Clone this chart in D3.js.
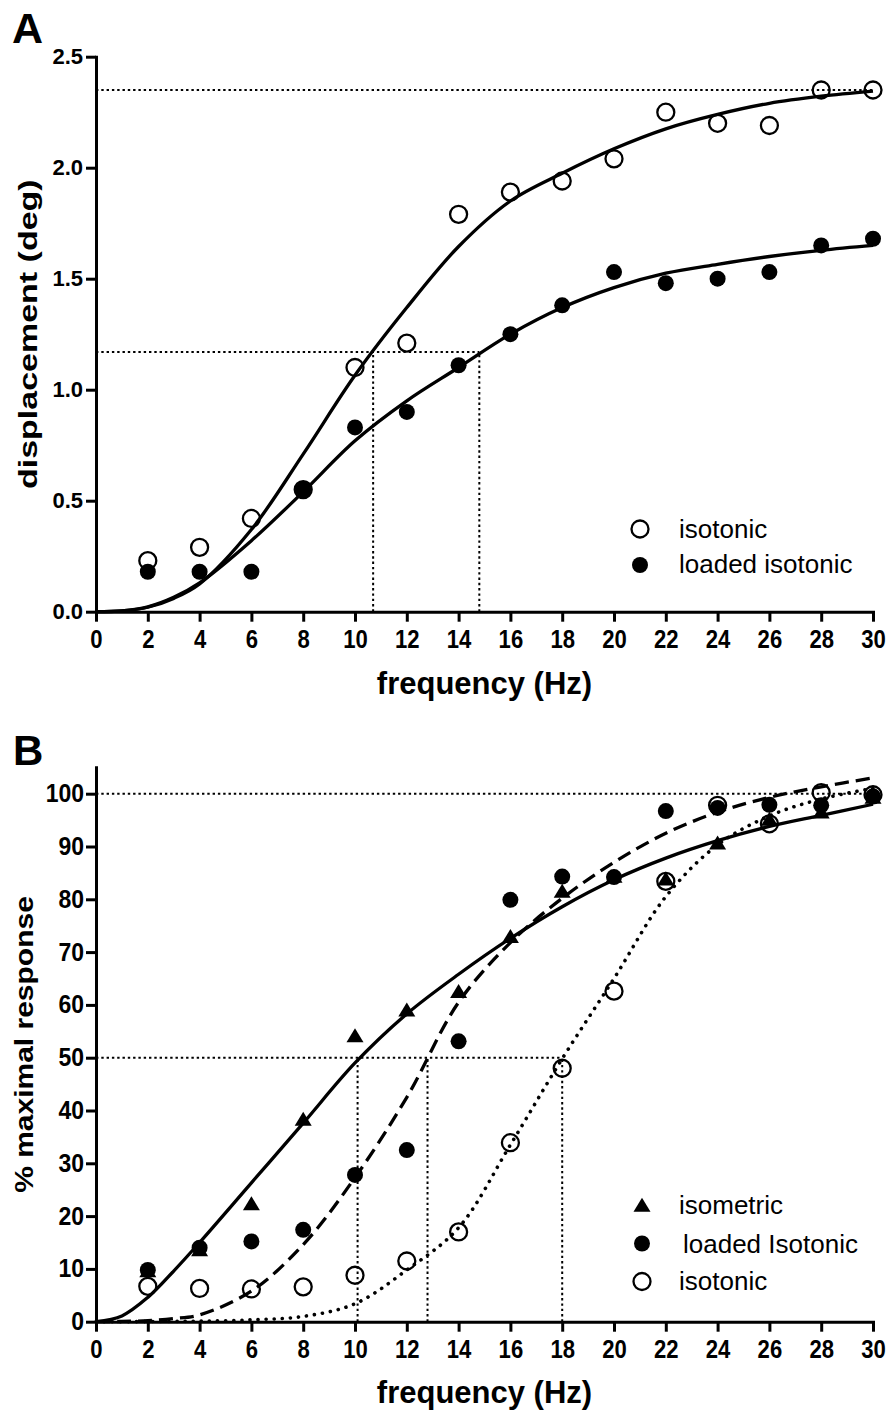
<!DOCTYPE html>
<html><head><meta charset="utf-8">
<script src="https://cdn.jsdelivr.net/npm/d3@7"></script>
<style>
body{margin:0;background:#fff}
text{font-family:"Liberation Sans",Arial,Helvetica,sans-serif;fill:#000}
</style>
</head><body>
<svg id="chart" width="889" height="1419"></svg>
<script>
// ---------- DATA ----------
const freq = [2,4,6,8,10,12,14,16,18,20,22,24,26,28,30];
const xTicks = [0,2,4,6,8,10,12,14,16,18,20,22,24,26,28,30];

// Panel A : displacement (deg)
const aIsotonic = [0.23,0.29,0.42,0.55,1.10,1.21,1.79,1.89,1.94,2.04,2.25,2.20,2.19,2.35,2.35];
const aLoaded   = [0.18,0.18,0.18,0.55,0.83,0.90,1.11,1.25,1.38,1.53,1.48,1.50,1.53,1.65,1.68];
const fitFreq   = [0,1,2,3,4,6,8,10,12,14,16,18,20,22,24,26,28,30];
const aFitIsotonic = [0,0.004,0.02,0.06,0.125,0.37,0.71,1.065,1.37,1.645,1.85,1.975,2.085,2.175,2.24,2.29,2.322,2.345];
const aFitLoaded   = [0,0.004,0.022,0.065,0.13,0.32,0.54,0.77,0.95,1.10,1.25,1.37,1.46,1.525,1.565,1.60,1.628,1.65];
const aYTicks = [0,0.5,1.0,1.5,2.0,2.5];
const aMax = 2.35, aHalf = 1.17, aHalfFreq = [10.7,14.8];

// Panel B : % maximal response
const bIsometric = [9.3,13.3,22,38,53.8,58.7,62.2,72.6,81.2,84,83.5,90.3,94.8,96.2,99.0];
const bLoaded    = [9.8,14,15.2,17.4,27.8,32.5,53.1,79.9,84.3,84.2,96.7,97.3,97.9,97.8,99.5];
const bIsotonic  = [6.7,6.3,6.2,6.6,8.8,11.5,17.0,33.9,48.0,62.6,83.4,97.8,94.3,100.2,99.8];
const bFitIsometric = [0,1.1,4.6,9.6,15,26.3,37.6,49,58.3,65.8,72.6,78.6,83.7,87.8,91.1,93.8,95.9,98];
const bFitLoaded    = [0,0.05,0.2,0.6,1.3,5.8,14.6,27.3,42.5,60.5,71.8,80.2,87,92.5,96.5,99.3,101.3,103];
const bFitIsotonic  = [0,0,0.02,0.05,0.1,0.35,1.0,3.4,9.8,17.8,33.5,49.8,65,80.5,90.3,95.8,99,101];
const bYTicks = [0,10,20,30,40,50,60,70,80,90,100];
const bMax = 100, bHalf = 50, bHalfFreq = [10.1,12.8,18];

// ---------- DRAW ----------
const svg = d3.select('#chart');
const X0 = 96, X1 = 873;
const x = d3.scaleLinear().domain([0,30]).range([X0,X1]);
const yA = d3.scaleLinear().domain([0,2.5]).range([611.7,56.7]);
const yB = d3.scaleLinear().domain([0,105]).range([1321.7,767.3]);

const refStyle = s => s.attr('fill','none').attr('stroke','#000').attr('stroke-width',2).attr('stroke-dasharray','2.4,2.9');

function triPath(w,h){ return `M0,${-h*2/3}L${w/2},${h/3}L${-w/2},${h/3}Z`; }

function axes(g, y, yTicks, yFmt, yFont, ySx, xLabelBase, yTitle, yTitleFont, yTitleSy, yTitleX){
  const xa = g.append('g').attr('transform',`translate(0,${y(0)})`)
    .call(d3.axisBottom(x).tickValues(xTicks).tickSize(10).tickSizeOuter(0).tickPadding(8));
  xa.selectAll('text').attr('font-size',26).attr('font-weight','bold').attr('transform','scale(0.85,1)')
    .style('font-family','"Liberation Sans",Arial,sans-serif');
  const ya = g.append('g').attr('transform',`translate(${X0},0)`)
    .call(d3.axisLeft(y).tickValues(yTicks).tickFormat(yFmt).tickSize(10).tickSizeOuter(0).tickPadding(3));
  ya.selectAll('text').attr('font-size',yFont).attr('font-weight','bold').attr('transform',`scale(${ySx},1)`)
    .style('font-family','"Liberation Sans",Arial,sans-serif');
  g.selectAll('.domain, .tick line').attr('stroke','#000').attr('stroke-width',3);
  g.selectAll('.domain').attr('stroke-linecap','square');
  g.append('text').attr('x',(X0+X1)/2).attr('y',xLabelBase).attr('text-anchor','middle')
    .attr('font-size',31).attr('font-weight','bold').text('frequency (Hz)');
  const cy = (y.range()[0]+y.range()[1])/2;
  g.append('text').attr('transform',`translate(${yTitleX},${cy}) rotate(-90) scale(1,${yTitleSy})`)
    .attr('text-anchor','middle').attr('font-size',yTitleFont).attr('font-weight','bold').text(yTitle);
}

function fitLine(g, y, vals, dash, width, cap){
  const line = d3.line().x((d,i)=>x(fitFreq[i])).y(d=>y(d)).curve(d3.curveCatmullRom.alpha(0.5));
  const p = g.append('path').datum(vals).attr('d',line).attr('fill','none').attr('stroke','#000')
    .attr('stroke-width',width);
  if(dash) p.attr('stroke-dasharray',dash);
  if(cap) p.attr('stroke-linecap',cap);
}

// ----- Panel A -----
const gA = svg.append('g');
gA.append('text').attr('x',12).attr('y',43).attr('font-size',43).attr('font-weight','bold').text('A');
gA.append('line').attr('x1',x(0)).attr('x2',x(30)).attr('y1',yA(aMax)).attr('y2',yA(aMax)).call(refStyle);
gA.append('line').attr('x1',x(0)).attr('x2',x(d3.max(aHalfFreq))).attr('y1',yA(aHalf)).attr('y2',yA(aHalf)).call(refStyle);
aHalfFreq.forEach(f=>gA.append('line').attr('x1',x(f)).attr('x2',x(f)).attr('y1',yA(0)).attr('y2',yA(aHalf)).call(refStyle));
fitLine(gA, yA, aFitIsotonic, null, 3.3);
fitLine(gA, yA, aFitLoaded, null, 3.3);
axes(gA, yA, aYTicks, d3.format('.1f'), 22, 1, 694, 'displacement (deg)', 34, 0.76, 37);
gA.selectAll('.oa').data(freq).enter().append('circle').attr('cx',d=>x(d)).attr('cy',(d,i)=>yA(aIsotonic[i]))
  .attr('r',8.5).attr('fill','none').attr('stroke','#000').attr('stroke-width',2.3);
gA.selectAll('.fa').data(freq).enter().append('circle').attr('cx',d=>x(d)).attr('cy',(d,i)=>yA(aLoaded[i]))
  .attr('r',8).attr('fill','#000');
gA.append('circle').attr('cx',640).attr('cy',529).attr('r',8.5).attr('fill','none').attr('stroke','#000').attr('stroke-width',2.3);
gA.append('circle').attr('cx',640).attr('cy',565).attr('r',8).attr('fill','#000');
gA.append('text').attr('x',679).attr('y',538).attr('font-size',26).text('isotonic');
gA.append('text').attr('x',679).attr('y',573).attr('font-size',26).text('loaded isotonic');

// ----- Panel B -----
const gB = svg.append('g');
gB.append('text').attr('x',13).attr('y',765).attr('font-size',42).attr('font-weight','bold').text('B');
gB.append('line').attr('x1',x(0)).attr('x2',x(30)).attr('y1',yB(bMax)).attr('y2',yB(bMax)).call(refStyle);
gB.append('line').attr('x1',x(0)).attr('x2',x(d3.max(bHalfFreq))).attr('y1',yB(bHalf)).attr('y2',yB(bHalf)).call(refStyle);
bHalfFreq.forEach(f=>gB.append('line').attr('x1',x(f)).attr('x2',x(f)).attr('y1',yB(0)).attr('y2',yB(bHalf)).call(refStyle));
fitLine(gB, yB, bFitIsotonic, '0.1,8', 3.6, 'round');
fitLine(gB, yB, bFitLoaded, '14,7', 3.3);
fitLine(gB, yB, bFitIsometric, null, 3.3);
axes(gB, yB, bYTicks, d3.format('d'), 25, 0.92, 1403, '% maximal response', 30, 0.86, 33);
gB.selectAll('.ob').data(freq).enter().append('circle').attr('cx',d=>x(d)).attr('cy',(d,i)=>yB(bIsotonic[i]))
  .attr('r',8.5).attr('fill','none').attr('stroke','#000').attr('stroke-width',2.3);
gB.selectAll('.tb').data(freq).enter().append('path').attr('d',triPath(17,14))
  .attr('transform',(d,i)=>`translate(${x(d)},${yB(bIsometric[i])})`).attr('fill','#000');
gB.selectAll('.fb').data(freq).enter().append('circle').attr('cx',d=>x(d)).attr('cy',(d,i)=>yB(bLoaded[i]))
  .attr('r',8).attr('fill','#000');
gB.append('path').attr('d',triPath(17,14)).attr('transform','translate(642,1207)').attr('fill','#000');
gB.append('circle').attr('cx',642).attr('cy',1243.5).attr('r',8).attr('fill','#000');
gB.append('circle').attr('cx',642).attr('cy',1281.5).attr('r',8.5).attr('fill','none').attr('stroke','#000').attr('stroke-width',2.3);
gB.append('text').attr('x',679).attr('y',1214).attr('font-size',26).text('isometric');
gB.append('text').attr('x',683).attr('y',1252.5).attr('font-size',26).text('loaded Isotonic');
gB.append('text').attr('x',679).attr('y',1290).attr('font-size',26).text('isotonic');
</script>
</body></html>
